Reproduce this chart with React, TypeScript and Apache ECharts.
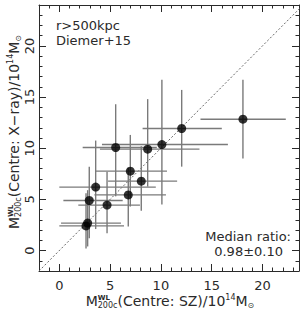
import React, { useEffect, useRef } from "react";
import * as echarts from "echarts";

// Weak-lensing M200c: SZ-centred (x) vs X-ray-centred (y), units of 1e14 Msun
const massSZ = [2.63, 2.79, 2.95, 3.58, 4.7, 5.55, 6.79, 6.99, 8.07, 8.7, 10.1, 12.05, 18.08];
const massXray = [2.41, 2.68, 4.89, 6.2, 4.44, 10.07, 5.44, 7.76, 6.78, 9.91, 10.36, 11.93, 12.84];
const massSZLow = [0.0, 0.17, 0.4, 0.0, 1.87, 2.3, 3.45, 3.6, 4.8, 4.0, 4.2, 8.2, 13.9];
const massSZHigh = [6.37, 6.07, 6.24, 9.5, 7.94, 9.6, 10.5, 10.6, 11.6, 13.8, 16.6, 16.0, 22.3];
const massXrayLow = [0.2, 0.4, 1.2, 2.1, 1.7, 5.3, 2.35, 4.3, 3.9, 6.25, 4.5, 8.2, 9.0];
const massXrayHigh = [5.6, 5.9, 8.2, 10.75, 7.7, 14.3, 8.1, 11.3, 10.2, 14.8, 16.7, 15.7, 16.7];

const xRange = [-2, 23.6];
const yRange = [-2, 24];
const oneToOne = [[-2, -2], [26, 26]];

const annotations = ["r>500kpc", "Diemer+15"];
const medianText = ["Median ratio:", "0.98±0.10"];

const FONT = '"DejaVu Sans", sans-serif';
const INK = "#2a2a2a";

let measureCtx: CanvasRenderingContext2D | null = null;
function textWidth(str: string, size: number) {
  if (!measureCtx) measureCtx = document.createElement("canvas").getContext("2d");
  measureCtx!.font = `${size}px ${FONT}`;
  return measureCtx!.measureText(str).width;
}

type Part = { t?: string; stack?: [string, string]; s: number; dy?: number };

// Lays out a mass label (M with stacked super/subscript) as a row of texts centred on the origin.
function massLabel(middle: string) {
  const parts: Part[] = [
    { t: "M", s: 14 },
    { stack: ["WL", "200c"], s: 8 },
    { t: "(Centre: " + middle + ")/10", s: 14 },
    { t: "14", s: 8, dy: -3.5 },
    { t: "M", s: 14 },
    { t: "⊙", s: 8, dy: 4.5 },
  ];
  const children: any[] = [];
  let x = 0;
  for (const p of parts) {
    if (p.stack) {
      const w = Math.max(textWidth(p.stack[0], p.s), textWidth(p.stack[1], p.s));
      children.push({ type: "text", x, y: -3, style: { text: p.stack[0], font: `bold ${p.s - 1}px ${FONT}`, fill: INK, verticalAlign: "middle" } });
      children.push({ type: "text", x, y: 4.5, style: { text: p.stack[1], font: `${p.s}px ${FONT}`, fill: INK, verticalAlign: "middle" } });
      x += w;
    } else {
      children.push({ type: "text", x, y: p.dy || 0, style: { text: p.t, font: `${p.s}px ${FONT}`, fill: INK, verticalAlign: "middle" } });
      x += textWidth(p.t!, p.s);
    }
  }
  for (const c of children) c.x -= x / 2;
  return children;
}

function axisBase(range: number[]) {
  return {
    type: "value",
    min: range[0],
    max: range[1],
    minInterval: 5,
    maxInterval: 5,
    splitLine: { show: false },
    axisLine: { show: true, onZero: false, lineStyle: { color: INK, width: 1 } },
    axisTick: { show: true, inside: true, length: 7, lineStyle: { color: INK, width: 1 } },
    minorTick: { show: true, splitNumber: 5, length: 3.5, lineStyle: { color: INK, width: 1 } },
  };
}

export default function App() {
  const ref = useRef<HTMLDivElement>(null);

  useEffect(() => {
    const chart = echarts.init(ref.current!, null, { renderer: "svg" });
    const bars = massSZ.map((x, i) => [x, massXray[i], massSZLow[i], massSZHigh[i], massXrayLow[i], massXrayHigh[i]]);
    const points = massSZ.map((x, i) => [x, massXray[i]]);

    chart.setOption({
      animation: false,
      backgroundColor: "#fff",
      grid: { left: 39, right: 4, top: 5, bottom: 40, containLabel: false },
      xAxis: [
        {
          ...axisBase(xRange),
          position: "bottom",
          axisLabel: { show: true, margin: 8, color: INK, fontSize: 13, fontFamily: FONT, showMinLabel: false, showMaxLabel: false },
        },
        { ...axisBase(xRange), position: "top", axisLabel: { show: false } },
      ],
      yAxis: [
        {
          ...axisBase(yRange),
          position: "left",
          axisLabel: { show: true, rotate: 90, margin: 3, color: INK, fontSize: 13, fontFamily: FONT, showMinLabel: false, showMaxLabel: false },
        },
        { ...axisBase(yRange), position: "right", axisLabel: { show: false } },
      ],
      series: [
        {
          type: "line",
          data: oneToOne,
          symbol: "none",
          clip: true,
          lineStyle: { color: "#666", width: 1, type: [2, 2] },
          z: 1,
        },
        {
          type: "custom",
          data: bars,
          encode: { x: 0, y: 1 },
          clip: true,
          z: 2,
          renderItem: (_p: any, api: any) => {
            const x = api.value(0);
            const y = api.value(1);
            const l = api.coord([api.value(2), y]);
            const r = api.coord([api.value(3), y]);
            const b = api.coord([x, api.value(4)]);
            const t = api.coord([x, api.value(5)]);
            const style = { stroke: "#7a7a7a", lineWidth: 1.4 };
            return {
              type: "group",
              children: [
                { type: "line", shape: { x1: l[0], y1: l[1], x2: r[0], y2: r[1] }, style },
                { type: "line", shape: { x1: b[0], y1: b[1], x2: t[0], y2: t[1] }, style },
              ],
            };
          },
        },
        {
          type: "scatter",
          data: points,
          symbol: "circle",
          symbolSize: 9,
          itemStyle: { color: "#000" },
          z: 3,
        },
      ],
      graphic: [
        { type: "text", left: 56, top: 19, style: { text: annotations[0], font: `13px ${FONT}`, fill: INK } },
        { type: "text", left: 56, top: 34, style: { text: annotations[1], font: `13px ${FONT}`, fill: INK } },
        { type: "text", right: 12, top: 230, style: { text: medianText[0], font: `13px ${FONT}`, fill: INK, align: "right" } },
        { type: "text", right: 20, top: 245, style: { text: medianText[1], font: `13px ${FONT}`, fill: INK, align: "right" } },
        { type: "group", x: 170, y: 301, children: massLabel("SZ") },
        { type: "group", x: 14, y: 132, rotation: Math.PI / 2, children: massLabel("X−ray") },
      ],
    });
    return () => chart.dispose();
  }, []);

  return <div ref={ref} style={{ position: "absolute", left: 0, top: 0, width: 303, height: 311 }} />;
}
